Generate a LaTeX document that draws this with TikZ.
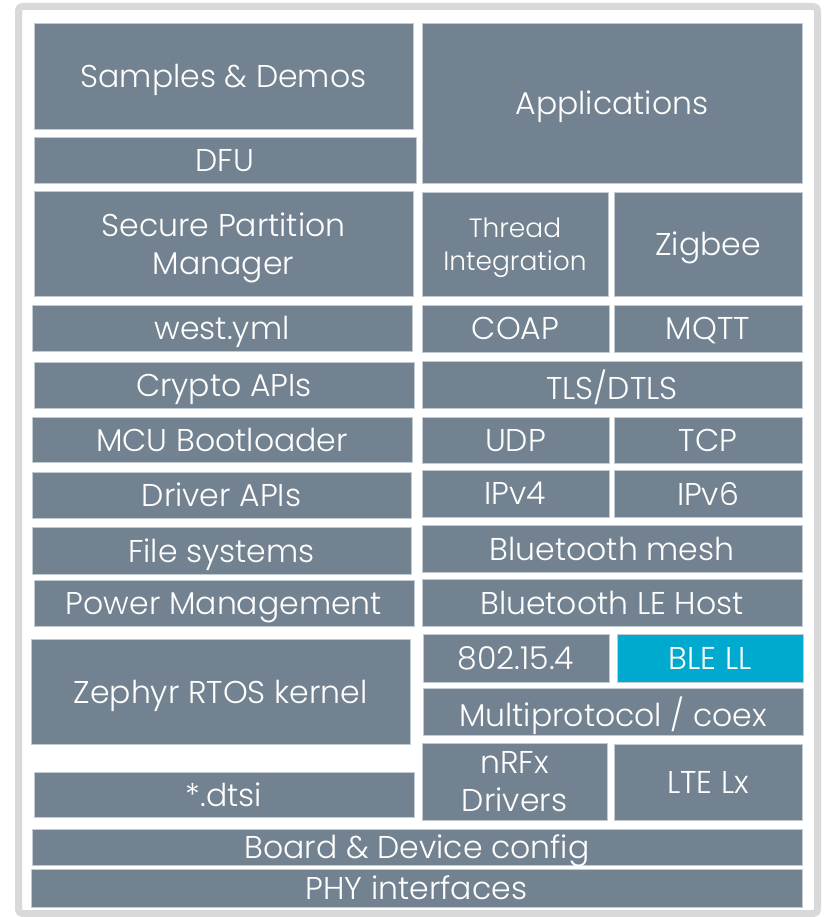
\documentclass[tikz,border=0pt]{standalone}
\usepackage{fontspec}
\setmainfont{Poppins Light}
\definecolor{slate}{HTML}{738290}
\definecolor{edge}{HTML}{C3CBD2}
\definecolor{nordic}{HTML}{00A9CE}
\definecolor{framegrey}{HTML}{D9D9D9}
\newcommand\blk[7][slate]{%
  \node[blk,fill=#1,minimum width={(#5-#3)*1pt},minimum height={(#6-#4)*1pt}]
    (#2) at ({(#3+#5)/2},{(#4+#6)/2}) {#7};}
\begin{document}
\begin{tikzpicture}[x=1pt,y=-1pt,
  blk/.style={draw=edge,line width=0.8pt,inner sep=0pt,outer sep=0pt,
    text=white,align=center,text depth=0pt,font=\fontsize{31.5}{38}\selectfont},
  small/.style={font=\fontsize{26.5}{33}\selectfont}]
\useasboundingbox (0,0) rectangle (823,917);
\draw[framegrey,line width=7pt,rounded corners=4pt] (18.5,6.5) rectangle (817.5,913.5);
% left column
\blk{samples}{34}{23}{413}{129}{Samples \& Demos}
\blk{dfu}{34}{137}{416}{183}{DFU}
\blk{spm}{34}{191}{413}{296}{Secure Partition\\Manager}
\blk{west}{32}{305}{412}{351}{west.yml}
\blk{crypto}{34}{362}{414}{408}{Crypto APIs}
\blk{mcu}{32}{417}{412}{462}{MCU Bootloader}
\blk{driver}{32}{472}{411}{518}{Driver APIs}
\blk{fs}{32}{527}{411}{574}{File systems}
\blk{pm}{34}{580}{414}{626}{Power Management}
\blk{zephyr}{31}{639}{410}{744}{Zephyr RTOS kernel}
\blk{dtsi}{34}{772}{414}{817}{*.dtsi}
\blk{board}{32}{829}{802}{865}{Board \& Device config}
\blk{phy}{31}{869}{802}{907}{PHY interfaces}
% right column
\blk{apps}{422}{23}{802}{183}{Applications}
\node[blk,small,fill=slate,minimum width=186pt,minimum height=104pt] (thread) at (515,244) {Thread\\Integration};
\blk{zigbee}{614}{192}{802}{296}{Zigbee}
\blk{coap}{422}{305}{609}{352}{COAP}
\blk{mqtt}{614}{305}{802}{352}{MQTT}
\blk{tls}{422}{361}{802}{408}{TLS/DTLS}
\blk{udp}{422}{417}{609}{463}{UDP}
\blk{tcp}{614}{417}{802}{463}{TCP}
\blk{ipv4}{422}{470}{609}{517}{IPv4}
\blk{ipv6}{614}{470}{802}{517}{IPv6}
\blk{btmesh}{422}{525}{802}{572}{Bluetooth mesh}
\blk{blehost}{422}{579}{802}{626}{Bluetooth LE Host}
\blk{ieee}{423}{634}{609}{682}{802.15.4}
\blk[nordic]{blell}{617}{634}{803}{682}{BLE LL}
\blk{multi}{423}{688}{803}{735}{Multiprotocol / coex}
\blk{nrfx}{422}{743}{607}{820}{nRFx\\Drivers}
\blk{lte}{614}{744}{802}{820}{LTE Lx}
\end{tikzpicture}
\end{document}
